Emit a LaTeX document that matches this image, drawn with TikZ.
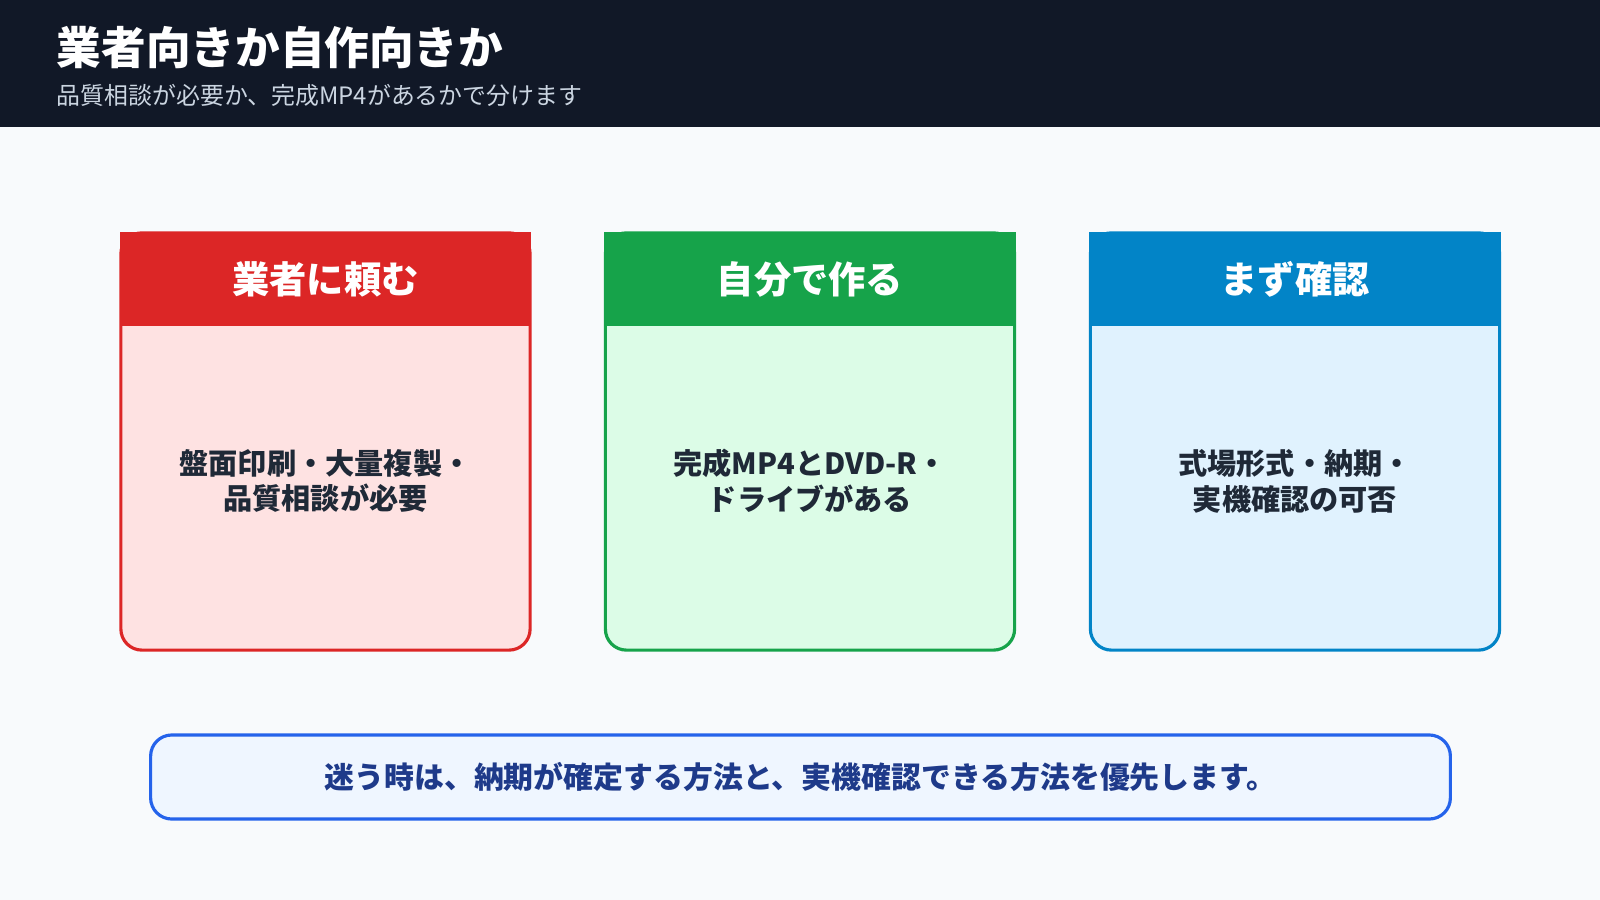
\documentclass[tikz,border=0pt]{standalone}
\usepackage{fontspec}
\setmainfont{Noto Sans CJK JP}
\usetikzlibrary{positioning}
\definecolor{pagebg}{HTML}{F8FAFC}
\definecolor{topbar}{HTML}{111827}
\definecolor{subgray}{HTML}{CBD5E1}
\definecolor{redhead}{HTML}{DC2626}
\definecolor{redbody}{HTML}{FEE2E2}
\definecolor{greenhead}{HTML}{16A34A}
\definecolor{greenbody}{HTML}{DCFCE7}
\definecolor{bluehead}{HTML}{0284C7}
\definecolor{bluebody}{HTML}{E0F2FE}
\definecolor{notebd}{HTML}{2563EB}
\definecolor{notebg}{HTML}{EFF6FF}
\definecolor{notetx}{HTML}{1E3A8A}
\definecolor{bodytx}{HTML}{1F2937}
\tikzset{
  card body/.style={draw=#1head, fill=#1body, line width=0.9pt, rounded corners=6pt,
    minimum width=4.09cm, minimum height=4.17cm, inner sep=0pt},
  card text/.style={text=bodytx, font=\bfseries\fontsize{8.3pt}{10.2pt}\selectfont, align=center, inner sep=0pt},
  card head/.style={fill=#1head, minimum width=4.11cm, minimum height=0.94cm, text=white,
    font=\bfseries\fontsize{10.6pt}{12pt}\selectfont, inner sep=0pt},
}
\begin{document}
\begin{tikzpicture}[x=0.01cm,y=-0.01cm]
  \useasboundingbox (0,0) rectangle (1600,900);
  \fill[pagebg] (0,0) rectangle (1600,900);
  \fill[topbar] (0,0) rectangle (1600,127);
  \node[anchor=west, text=white, font=\bfseries\fontsize{12.7pt}{14pt}\selectfont, inner sep=0pt] (title) at (56,48) {業者向きか自作向きか};
  \node[anchor=west, text=subgray, font=\fontsize{6.8pt}{8pt}\selectfont, inner sep=0pt] (subtitle) at (56,95) {品質相談が必要か、完成MP4があるかで分けます};

  % cards
  \node[card body=red] (vendor) at (325.5,441.5) {};
  \node[card head=red, anchor=north] (vendorhead) at (vendor.north) {業者に頼む};
  \node[card text] (vendortext) at (325.5,481) {盤面印刷・大量複製・\\品質相談が必要};
  \node[card body=green] (diy) at (810,441.5) {};
  \node[card head=green, anchor=north] (diyhead) at (diy.north) {自分で作る};
  \node[card text] (diytext) at (810,481) {完成MP4とDVD-R・\\ドライブがある};
  \node[card body=blue] (check) at (1295,441.5) {};
  \node[card head=blue, anchor=north] (checkhead) at (check.north) {まず確認};
  \node[card text] (checktext) at (1295,481) {式場形式・納期・\\実機確認の可否};

  % note
  \node[draw=notebd, fill=notebg, line width=0.9pt, rounded corners=6pt, minimum width=12.99cm,
    minimum height=0.84cm, text=notetx, font=\bfseries\fontsize{8.5pt}{9pt}\selectfont] (note) at (800.5,777)
    {迷う時は、納期が確定する方法と、実機確認できる方法を優先します。};
\end{tikzpicture}
\end{document}
